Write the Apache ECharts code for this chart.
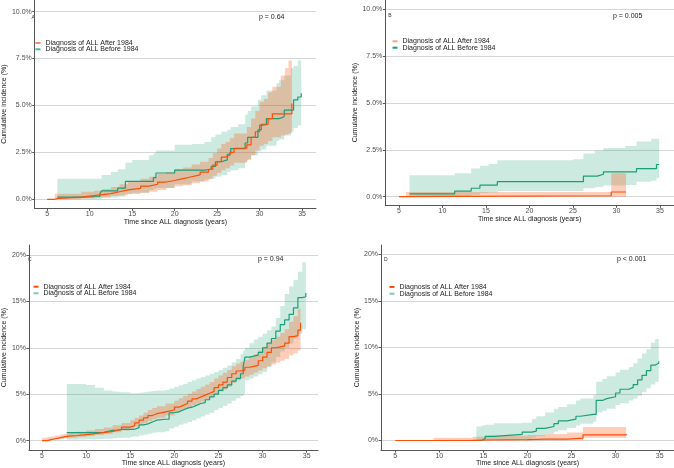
<!DOCTYPE html>
<html><head><meta charset="utf-8">
<script src="https://cdn.jsdelivr.net/npm/echarts@6/dist/echarts.min.js"></script>
<style>html,body{margin:0;padding:0;background:#fff}#c{width:674px;height:468px}</style>
</head><body><div id="c"></div>
<script>
// ---- tick labels / text ----
const xTicks = [5, 10, 15, 20, 25, 30, 35];
const yTicksAB = [0, 2.5, 5, 7.5, 10];
const yTicksCD = [0, 5, 10, 15, 20];
const groupNames = ['Diagnosis of ALL After 1984', 'Diagnosis of ALL Before 1984'];
const panelLetters = ['A', 'B', 'C', 'D'];
const pValues = ['p = 0.64', 'p = 0.005', 'p = 0.94', 'p < 0.001'];
const xTitle = 'Time since ALL diagnosis (years)';
const yTitle = 'Cumulative incidence (%)';

// ---- Panel A ----
const aAfterT  = [5.0, 5.9, 6.3, 9.0, 10.5, 11.5, 12.5, 13.5, 14.5, 16.0, 17.0, 18.0, 19.0, 20.0, 21.0, 22.0, 23.0, 24.0, 24.5, 25.0, 25.5, 26.0, 26.5, 27.0, 28.5, 29.0, 29.5, 30.0, 30.5, 31.0, 31.5, 32.5, 33.0, 33.4, 33.8];
const aAfterY  = [0, 0.05, 0.12, 0.2, 0.25, 0.3, 0.4, 0.5, 0.58, 0.7, 0.8, 0.92, 1.0, 1.1, 1.2, 1.3, 1.45, 1.6, 1.82, 2.0, 2.25, 2.35, 2.5, 2.72, 2.9, 3.3, 3.6, 3.95, 4.0, 4.3, 4.55, 4.55, 4.55, 4.55, 5.1];
const aAfterLo = [0, 0, 0, 0.05, 0.1, 0.12, 0.18, 0.22, 0.28, 0.35, 0.4, 0.5, 0.6, 0.7, 0.75, 0.85, 0.95, 1.1, 1.25, 1.4, 1.55, 1.65, 1.8, 1.95, 2.1, 2.35, 2.6, 2.85, 2.95, 3.1, 3.3, 3.4, 3.45, 3.5, 3.55];
const aAfterHi = [0, 0.3, 0.3, 0.4, 0.45, 0.55, 0.65, 0.8, 0.95, 1.1, 1.2, 1.35, 1.45, 1.6, 1.7, 1.85, 2.0, 2.2, 2.45, 2.7, 2.95, 3.05, 3.25, 3.5, 3.85, 4.3, 4.7, 5.2, 5.35, 5.7, 6.0, 6.6, 7.0, 7.4, 7.4];

const aBeforeT  = [6.2, 9.0, 11.2, 11.4, 12.5, 13.3, 14.2, 15.0, 17.0, 17.5, 17.8, 20.0, 22.0, 23.5, 24.3, 24.8, 25.5, 26.2, 26.6, 27.5, 28.3, 28.6, 29.0, 29.8, 30.2, 30.8, 32.0, 32.3, 32.9, 33.7, 34.0, 34.5, 34.9];
const aBeforeY  = [0.12, 0.15, 0.3, 0.45, 0.45, 0.6, 0.95, 0.95, 0.95, 1.15, 1.4, 1.55, 1.55, 1.6, 1.75, 2.0, 2.1, 2.4, 2.7, 2.7, 3.0, 3.3, 3.3, 3.7, 4.0, 4.3, 4.3, 4.4, 4.75, 4.75, 5.3, 5.45, 5.65];
const aBeforeLo = [0, 0, 0, 0.05, 0.1, 0.15, 0.3, 0.35, 0.5, 0.55, 0.6, 0.8, 0.95, 1.05, 1.1, 1.2, 1.3, 1.45, 1.55, 1.65, 2.0, 2.15, 2.35, 2.55, 2.65, 2.85, 3.1, 3.2, 3.4, 3.6, 3.8, 3.95, 4.1];
const aBeforeHi = [1.1, 1.1, 1.1, 1.3, 1.45, 1.6, 1.95, 2.1, 2.35, 2.45, 2.6, 2.9, 2.95, 3.05, 3.3, 3.45, 3.6, 3.7, 3.85, 4.0, 4.5, 4.7, 4.95, 5.3, 5.55, 5.8, 6.2, 6.35, 6.6, 7.0, 7.1, 7.4, 7.7];

// ---- Panel B ----
const bAfterT  = [5.0, 5.8, 29.4, 31.1];
const bAfterY  = [0, 0.05, 0.25, 0.25];
const bAfterLo = [0, 0, 0, 0];
const bAfterHi = [0, 0.25, 1.25, 1.25];

const bBeforeT  = [6.2, 11.4, 13.3, 14.3, 15.3, 16.3, 25.0, 26.2, 27.5, 27.8, 28.5, 31.0, 32.3, 34.0, 34.6, 34.9];
const bBeforeY  = [0.15, 0.3, 0.45, 0.62, 0.62, 0.8, 0.8, 1.1, 1.1, 1.2, 1.33, 1.33, 1.5, 1.5, 1.72, 1.75];
const bBeforeLo = [0, 0.03, 0.1, 0.2, 0.22, 0.3, 0.3, 0.45, 0.5, 0.52, 0.6, 0.62, 0.8, 0.85, 1.0, 1.0];
const bBeforeHi = [1.15, 1.25, 1.5, 1.65, 1.75, 1.95, 2.0, 2.3, 2.45, 2.45, 2.6, 2.7, 2.95, 3.1, 3.1, 3.1];

// ---- Panel C ----
const cAfterT  = [5.0, 5.6, 6.0, 6.5, 7.0, 7.5, 8.0, 9.0, 10.0, 11.0, 12.0, 13.0, 14.0, 15.0, 15.5, 16.0, 16.5, 17.0, 17.5, 18.0, 19.0, 20.0, 20.5, 21.0, 21.5, 22.0, 22.5, 23.0, 23.5, 24.0, 24.5, 25.0, 25.5, 26.0, 26.5, 27.0, 27.5, 28.0, 28.5, 29.0, 29.5, 30.0, 30.5, 31.0, 31.5, 32.0, 32.5, 33.0, 33.5, 34.0, 34.3];
const cAfterY  = [0, 0.1, 0.2, 0.3, 0.4, 0.48, 0.55, 0.65, 0.75, 0.85, 1.0, 1.2, 1.45, 1.6, 1.9, 2.2, 2.45, 2.7, 2.9, 3.1, 3.3, 3.6, 3.8, 4.0, 4.25, 4.5, 4.7, 4.9, 5.1, 5.3, 5.7, 6.0, 6.3, 6.8, 7.2, 7.5, 7.6, 7.9, 8.0, 8.1, 8.6, 9.0, 9.5, 10.0, 10.1, 10.2, 10.5, 11.2, 11.3, 11.9, 12.7];
const cAfterLo = [0, 0, 0.05, 0.1, 0.18, 0.25, 0.3, 0.4, 0.5, 0.6, 0.72, 0.9, 1.1, 1.3, 1.5, 1.7, 1.9, 2.1, 2.3, 2.45, 2.7, 3.0, 3.2, 3.4, 3.6, 3.8, 4.0, 4.2, 4.45, 4.7, 5.0, 5.3, 5.5, 5.8, 6.2, 6.5, 6.7, 6.9, 7.1, 7.3, 7.55, 7.8, 8.0, 8.2, 8.4, 8.6, 8.8, 9.2, 9.4, 9.7, 10.0];
const cAfterHi = [0.3, 0.4, 0.45, 0.55, 0.65, 0.72, 0.8, 0.95, 1.1, 1.25, 1.4, 1.65, 1.9, 2.2, 2.45, 2.7, 3.0, 3.3, 3.5, 3.7, 4.0, 4.3, 4.55, 4.8, 5.05, 5.3, 5.55, 5.8, 6.05, 6.3, 6.7, 7.0, 7.3, 7.6, 8.0, 8.3, 8.5, 8.7, 9.0, 9.3, 9.7, 10.1, 10.5, 10.9, 11.2, 11.6, 12.0, 12.8, 13.4, 14.2, 14.8];

const cBeforeT  = [7.8, 9.0, 10.0, 11.0, 12.0, 13.0, 13.5, 14.0, 15.0, 15.4, 16.0, 16.5, 17.0, 17.5, 18.0, 19.0, 19.4, 20.0, 20.5, 21.0, 21.5, 22.0, 22.5, 23.0, 23.5, 24.0, 24.5, 25.0, 25.5, 26.0, 26.5, 27.0, 27.5, 27.8, 28.0, 28.5, 29.0, 29.5, 30.0, 30.5, 31.0, 31.5, 32.0, 32.5, 33.0, 33.5, 34.0, 34.5, 34.9];
const cBeforeY  = [0.85, 0.85, 0.85, 0.9, 1.1, 1.1, 1.2, 1.2, 1.2, 1.4, 1.7, 1.8, 2.0, 2.2, 2.3, 2.3, 3.0, 3.1, 3.3, 3.5, 3.6, 3.8, 4.0, 4.1, 4.4, 4.7, 5.0, 5.4, 5.7, 6.0, 6.4, 6.7, 7.2, 8.0, 9.0, 9.1, 9.2, 9.5, 10.0, 10.5, 11.0, 11.8, 12.5, 13.0, 13.6, 14.3, 15.4, 15.5, 15.9];
const cBeforeLo = [0.1, 0.12, 0.15, 0.18, 0.2, 0.25, 0.28, 0.3, 0.4, 0.45, 0.55, 0.65, 0.75, 0.85, 0.9, 1.0, 1.3, 1.5, 1.7, 1.85, 2.0, 2.2, 2.4, 2.6, 2.8, 3.0, 3.3, 3.5, 3.75, 4.0, 4.3, 4.55, 4.8, 5.0, 6.5, 6.7, 6.9, 7.15, 7.4, 7.9, 8.4, 9.0, 9.6, 10.0, 10.5, 11.0, 11.5, 12.0, 12.5];
const cBeforeHi = [6.1, 6.1, 6.0, 5.7, 5.4, 5.3, 5.25, 5.2, 5.1, 5.1, 5.15, 5.2, 5.3, 5.35, 5.4, 5.45, 5.6, 5.8, 5.95, 6.1, 6.3, 6.5, 6.7, 6.85, 7.0, 7.2, 7.4, 7.6, 7.85, 8.1, 8.45, 8.8, 9.3, 9.7, 10.0, 10.5, 10.9, 11.2, 11.5, 11.9, 12.3, 13.2, 14.5, 15.8, 16.6, 17.3, 18.2, 19.2, 19.5];

// ---- Panel D ----
const dAfterT  = [5.0, 9.4, 13.8, 15.5, 20.0, 22.0, 24.5, 26.3, 31.2];
const dAfterY  = [0, 0.02, 0.05, 0.1, 0.15, 0.15, 0.25, 0.6, 0.7];
const dAfterLo = [0, 0, 0, 0, 0, 0, 0.02, 0.3, 0.3];
const dAfterHi = [0, 0.3, 0.4, 0.5, 0.6, 0.7, 0.85, 1.45, 1.45];

const dBeforeT  = [13.8, 14.2, 14.8, 15.2, 16.2, 19.4, 20.5, 21.0, 22.0, 23.0, 23.5, 24.5, 25.5, 26.0, 27.5, 27.8, 28.5, 29.0, 30.0, 30.5, 31.5, 32.0, 32.5, 33.0, 33.5, 34.0, 34.5, 34.9];
const dBeforeY  = [0, 0, 0.2, 0.45, 0.65, 0.9, 1.0, 1.3, 1.5, 1.8, 2.1, 2.3, 2.6, 2.8, 2.8, 4.3, 4.5, 4.7, 5.1, 5.5, 5.7, 6.0, 6.5, 7.0, 7.5, 8.1, 8.3, 8.5];
const dBeforeLo = [0, 0, 0, 0.02, 0.08, 0.15, 0.3, 0.45, 0.7, 0.95, 1.1, 1.35, 1.6, 1.8, 2.0, 3.0, 3.2, 3.4, 3.8, 4.0, 4.3, 4.5, 4.8, 5.2, 5.6, 6.0, 6.3, 6.5];
const dBeforeHi = [0, 1.5, 1.6, 1.7, 1.85, 1.9, 2.3, 2.6, 3.0, 3.4, 3.6, 3.9, 4.3, 4.5, 4.9, 6.3, 6.6, 6.9, 7.3, 7.6, 7.9, 8.3, 8.8, 9.3, 9.8, 10.5, 10.9, 11.1];

// ---- assembly ----
const FONT = "'Liberation Sans', Arial, sans-serif";
const ORANGE = '#FC4E07', GREEN = '#1B9E77';
const ORANGE_BAND = 'rgba(252,78,7,0.28)', GREEN_BAND = 'rgba(27,158,119,0.22)';

const panels = [
  {after:[aAfterT,aAfterY,aAfterLo,aAfterHi], before:[aBeforeT,aBeforeY,aBeforeLo,aBeforeHi],
   grid:{left:29, top:0, width:287, height:208.3}, x:[3.535,36.64], y:[-0.48,10.62], yTicks:yTicksAB, dec:1,
   yGap:22, xGap:7, letter:[31.5,15], p:[259,14], leg:[35.5,39.5,45.8], legCol:['#F08A6A','#4DB595']},
  {after:[bAfterT,bAfterY,bAfterLo,bAfterHi], before:[bBeforeT,bBeforeY,bBeforeLo,bBeforeHi],
   grid:{left:385.3, top:0, width:288.7, height:205.3}, x:[3.425,36.61], y:[-0.459,10.5], yTicks:yTicksAB, dec:1,
   yGap:22.5, xGap:7, letter:[388.3,13], p:[613,12.7], leg:[392.5,37.8,44.2], legCol:['#F7A582','#1B9E77']},
  {after:[cAfterT,cAfterY,cAfterLo,cAfterHi], before:[cBeforeT,cBeforeY,cBeforeLo,cBeforeHi],
   grid:{left:25.7, top:245, width:292.3, height:207.3}, x:[3.509,36.28], y:[-1.023,21.07], yTicks:yTicksCD, dec:0,
   yGap:17.2, xGap:8, letter:[28,257.5], p:[258,255.7], leg:[33.5,283.2,289.8], legCol:[ORANGE,'#7FCBB3']},
  {after:[dAfterT,dAfterY,dAfterLo,dAfterHi], before:[dBeforeT,dBeforeY,dBeforeLo,dBeforeHi],
   grid:{left:381, top:245, width:293, height:207}, x:[3.377,36.63], y:[-1.032,20.99], yTicks:yTicksCD, dec:0,
   yGap:17.5, xGap:8, letter:[384,257.5], p:[617,256], leg:[389.5,283.5,290.2], legCol:[ORANGE,'#7FCBB3']}
];

function pts(T, v) { return T.map((t, i) => [t, v[i]]); }

// confidence band: one polygon built from the step function through the axis scales
function bandSeries(i, g, fill) {
  const [T, , lo, hi] = g;
  return {
    type: 'custom', xAxisIndex: i, yAxisIndex: i, silent: true, z: 1, clip: true,
    data: T.map((t, k) => [t, lo[k], hi[k]]),
    encode: {x: 0, y: [1, 2]},
    renderItem: (params, api) => {
      if (params.dataIndex !== 0) return null;
      const up = [], dn = [];
      const n = T.length;
      for (let k = 0; k < n; k++) {
        up.push(api.coord([T[k], hi[k]]));
        if (k < n - 1) up.push(api.coord([T[k + 1], hi[k]]));
        dn.push(api.coord([T[k], lo[k]]));
        if (k < n - 1) dn.push(api.coord([T[k + 1], lo[k]]));
      }
      return {type: 'polygon', shape: {points: up.concat(dn.reverse())}, style: {fill: fill, stroke: null}};
    }
  };
}

const grids = [], xAxes = [], yAxes = [], series = [], legends = [], graphics = [];
const axisLineStyle = {color: '#555555', width: 1};

panels.forEach((p, i) => {
  grids.push(Object.assign({containLabel: false}, p.grid));
  xAxes.push({
    type: 'value', gridIndex: i, min: p.x[0], max: p.x[1],
    name: xTitle, nameLocation: 'middle', nameGap: p.xGap,
    nameTextStyle: {fontSize: 7, color: '#1a1a1a', fontFamily: FONT},
    axisLine: {show: true, onZero: false, lineStyle: axisLineStyle},
    axisTick: {show: true, length: 2.5, lineStyle: axisLineStyle, customValues: xTicks},
    axisLabel: {fontSize: 7, color: '#4d4d4d', fontFamily: FONT, margin: 2, customValues: xTicks},
    splitLine: {show: false}
  });
  yAxes.push({
    type: 'value', gridIndex: i, min: p.y[0], max: p.y[1],
    name: yTitle, nameLocation: 'middle', nameGap: p.yGap, nameRotate: 90,
    nameTextStyle: {fontSize: 7, color: '#1a1a1a', fontFamily: FONT},
    axisLine: {show: true, onZero: false, lineStyle: axisLineStyle},
    axisTick: {show: true, length: 2.5, lineStyle: axisLineStyle, customValues: p.yTicks},
    axisLabel: {fontSize: 7, color: '#4d4d4d', fontFamily: FONT, margin: 3, customValues: p.yTicks,
      formatter: v => v.toFixed(p.dec) + '%'},
    splitLine: {show: true, lineStyle: {color: '#d6d6d6', width: 1}}
  });

  series.push(bandSeries(i, p.before, GREEN_BAND));
  series.push(bandSeries(i, p.after, ORANGE_BAND));
  series.push({type: 'line', name: groupNames[1], xAxisIndex: i, yAxisIndex: i,
    data: pts(p.before[0], p.before[1]), step: 'end', symbol: 'none', color: GREEN,
    lineStyle: {color: GREEN, width: 1.2}, z: 3});
  series.push({type: 'line', name: groupNames[0], xAxisIndex: i, yAxisIndex: i,
    data: pts(p.after[0], p.after[1]), step: 'end', symbol: 'none', color: ORANGE,
    lineStyle: {color: ORANGE, width: 1.2}, z: 4});

  [0, 1].forEach(k => {
    legends.push({
      left: p.leg[0], top: p.leg[1 + k], orient: 'vertical', padding: 0, selectedMode: false,
      icon: 'rect', itemWidth: 5, itemHeight: 2,
      textStyle: {fontSize: 7, color: '#1a1a1a', fontFamily: FONT, lineHeight: 7},
      data: [{name: groupNames[k], itemStyle: {color: p.legCol[k]}}]
    });
  });

  graphics.push({type: 'text', left: p.letter[0], top: p.letter[1], silent: true,
    style: {text: panelLetters[i], fontSize: 5, fill: '#333', fontFamily: FONT}});
  graphics.push({type: 'text', left: p.p[0], top: p.p[1], silent: true,
    style: {text: pValues[i], fontSize: 7, fill: '#1a1a1a', fontFamily: FONT}});
});

const chart = echarts.init(document.getElementById('c'), null, {renderer: 'canvas'});
chart.setOption({
  animation: false,
  backgroundColor: '#ffffff',
  textStyle: {fontFamily: FONT},
  grid: grids, xAxis: xAxes, yAxis: yAxes, series: series, legend: legends, graphic: graphics
});
</script></body></html>
